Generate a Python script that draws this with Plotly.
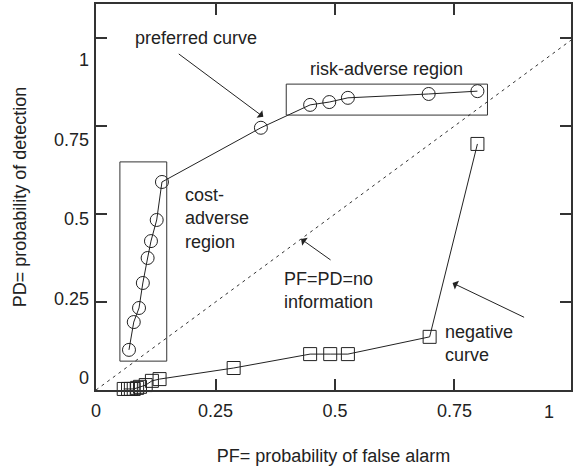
import plotly.graph_objects as go

# ---------------- data ----------------
pref_pf = [0.069, 0.079, 0.090, 0.098, 0.108, 0.115, 0.127, 0.138, 0.345, 0.448, 0.488, 0.527, 0.696, 0.798]
pref_pd = [0.114, 0.193, 0.233, 0.304, 0.375, 0.423, 0.483, 0.591, 0.745, 0.810, 0.818, 0.830, 0.841, 0.849]

neg_pf = [0.058, 0.067, 0.073, 0.079, 0.086, 0.092, 0.104, 0.117, 0.133, 0.288, 0.448, 0.490, 0.527, 0.698, 0.798]
neg_pd = [0.003, 0.003, 0.003, 0.003, 0.006, 0.009, 0.014, 0.026, 0.031, 0.0625, 0.102, 0.102, 0.102, 0.151, 0.699]

diag = [0, 1]

tick_vals = [0, 0.25, 0.5, 0.75, 1]
tick_text = ["0", "0.25", "0.5", "0.75", "1"]

cost_box = [0.050, 0.148, 0.082, 0.648]   # x0, x1, y0, y1
risk_box = [0.398, 0.819, 0.781, 0.869]

FONT = "Liberation Sans, Arial, sans-serif"
INK = "#222222"
FS = 18

fig = go.Figure()

# no-information diagonal
fig.add_trace(go.Scatter(x=diag, y=diag, mode="lines",
                         line=dict(color="#333333", width=1, dash="3px,4px"),
                         hoverinfo="skip", cliponaxis=False))
# preferred curve
fig.add_trace(go.Scatter(x=pref_pf, y=pref_pd, mode="lines+markers",
                         line=dict(color=INK, width=1),
                         marker=dict(symbol="circle-open", size=13, color=INK, line=dict(width=1)),
                         cliponaxis=False))
# negative curve
fig.add_trace(go.Scatter(x=neg_pf, y=neg_pd, mode="lines+markers",
                         line=dict(color=INK, width=1),
                         marker=dict(symbol="square-open", size=13, color=INK, line=dict(width=1)),
                         cliponaxis=False))
# invisible trace to carry the label axes
fig.add_trace(go.Scatter(x=[0], y=[0], xaxis="x2", yaxis="y2", mode="markers",
                         marker=dict(opacity=0), hoverinfo="skip"))

# region boxes
for b in (cost_box, risk_box):
    fig.add_shape(type="rect", xref="x", yref="y", x0=b[0], x1=b[1], y0=b[2], y1=b[3],
                  line=dict(color="#333333", width=1), layer="above")

ann_font = dict(family=FONT, size=FS, color=INK)
fig.add_annotation(x=0.210, y=1.0, xref="x", yref="y", text="preferred curve",
                   showarrow=False, font=ann_font, yanchor="middle")
fig.add_annotation(x=0.608, y=0.912, xref="x", yref="y", text="risk-adverse region",
                   showarrow=False, font=ann_font)
fig.add_annotation(x=0.183, y=0.4886, xref="x", yref="y", text="cost-<br>adverse<br>region",
                   showarrow=False, font=ann_font, xanchor="left", align="left")
fig.add_annotation(x=0.487, y=0.284, xref="x", yref="y", text="PF=PD=no<br>information",
                   showarrow=False, font=ann_font, align="center")
fig.add_annotation(x=0.725, y=0.133, xref="x", yref="y", text="negative<br>curve",
                   showarrow=False, font=ann_font, xanchor="left", align="left")

# arrows
arrow = dict(showarrow=True, arrowhead=1, arrowsize=1.6, arrowwidth=1, arrowcolor=INK,
             text="", xref="x", yref="y", axref="pixel", ayref="pixel")
fig.add_annotation(x=0.350, y=0.776, ax=-86, ay=-64, **arrow)
fig.add_annotation(x=0.429, y=0.429, ax=31, ay=22, **arrow)
fig.add_annotation(x=0.746, y=0.304, ax=73, ay=35, **arrow)

# x label "1" sits left of its tick (the tick lies at the page edge)
fig.add_annotation(x=0.948, y=0, xref="x", yref="paper", text=tick_text[-1],
                   showarrow=False, font=ann_font, yanchor="top", yshift=-10)

axis_common = dict(showgrid=False, zeroline=False)
fig.update_layout(
    width=573, height=471,
    margin=dict(l=96, r=0, t=4, b=81),
    paper_bgcolor="white", plot_bgcolor="white",
    showlegend=False,
    font=dict(family=FONT, size=FS, color=INK),
    xaxis=dict(range=[0, 477 / 480], tickvals=tick_vals[:-1], ticktext=tick_text[:-1],
               ticks="inside", ticklen=11, tickwidth=1.5, tickcolor="#333333",
               showline=True, linewidth=2, linecolor="#333333", mirror="allticks",
               tickfont=dict(family=FONT, size=FS, color=INK), ticklabelstandoff=3,
               title=dict(text="PF= probability of false alarm", standoff=30,
                          font=dict(family=FONT, size=FS, color=INK)),
               **axis_common),
    yaxis=dict(range=[0, 386 / 352], tickvals=tick_vals, showticklabels=False,
               ticks="inside", ticklen=11, tickwidth=1.5, tickcolor="#333333",
               showline=True, linewidth=2, linecolor="#333333", mirror="allticks",
               **axis_common),
    xaxis2=dict(overlaying="x", anchor="y2", range=[0, 477 / 480], showticklabels=False,
                ticks="", showline=False, **axis_common),
    yaxis2=dict(overlaying="y", anchor="x2", side="left", range=[-12 / 318, 374 / 318],
                tickvals=tick_vals, ticktext=tick_text, ticks="", showline=False,
                tickfont=dict(family=FONT, size=FS, color=INK), ticklabelstandoff=6,
                title=dict(text="PD= probability of detection", standoff=22,
                           font=dict(family=FONT, size=FS, color=INK)),
                **axis_common),
)

fig.write_html("out.html")
